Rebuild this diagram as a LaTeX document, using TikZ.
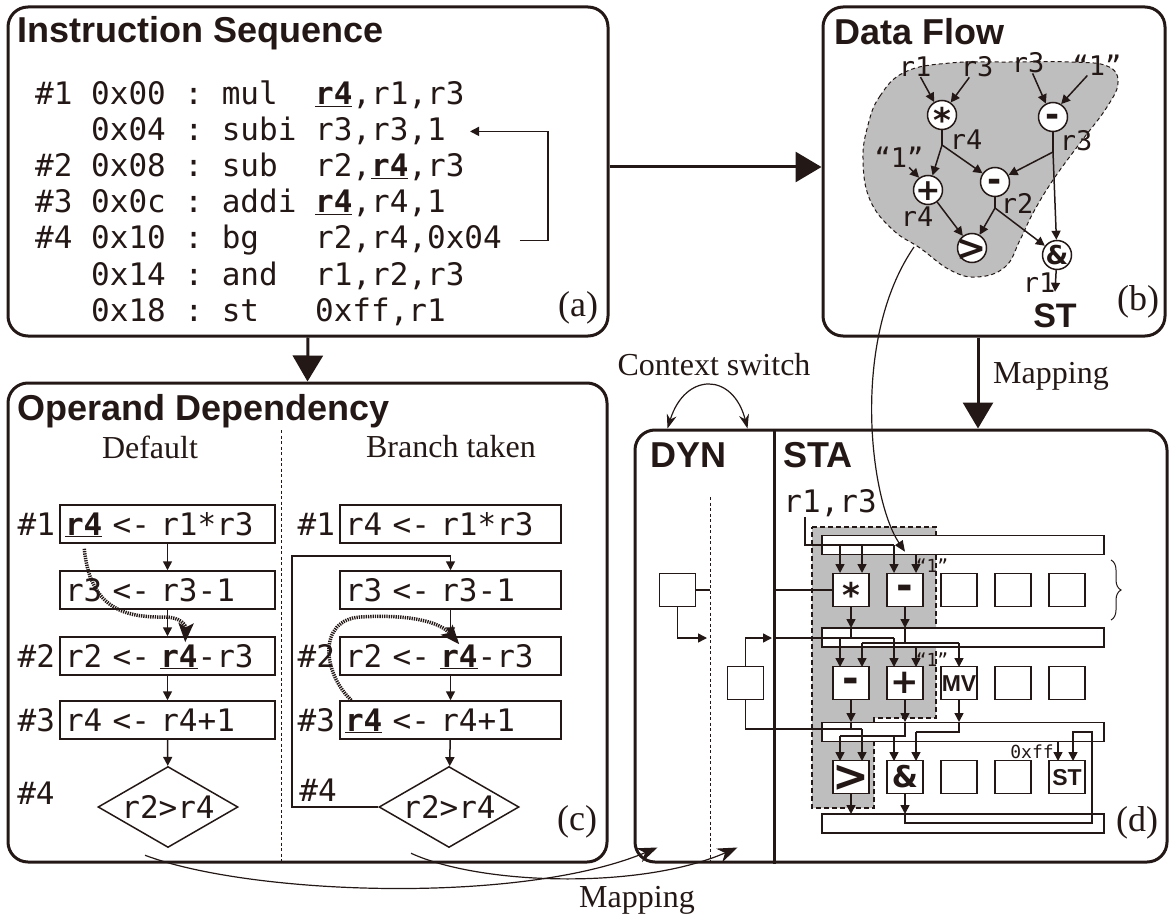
\documentclass[tikz,border=0pt]{standalone}
\usepackage{fontspec}
\setmainfont{Liberation Serif}
\setsansfont{Liberation Sans}
\setmonofont{DejaVu Sans Mono}
\newfontfamily\opfont{DejaVu Sans}
\usetikzlibrary{arrows.meta,shapes.geometric,decorations.pathreplacing}

\definecolor{ink}{RGB}{35,24,21}
\definecolor{blob}{RGB}{190,190,190}

% operator glyph with no width: raise, size, glyph
\newcommand{\opsym}[3]{\makebox[0pt]{\raisebox{#1}{\fontsize{#2}{#2}\selectfont\opfont\bfseries #3}}}
% unit name inside a cell
\newcommand{\fu}[1]{\makebox[0pt]{\raisebox{2pt}{\fontsize{23}{24}\selectfont\sffamily\bfseries #1}}}
% register carrying the dependency
\newcommand{\dep}[1]{\textbf{\underline{#1}}}

\begin{document}
\begin{tikzpicture}[x=1pt, y=-1pt, color=ink,
    panel/.style={draw, line width=3pt, rounded corners=20pt, inner sep=0},
    ttl/.style={anchor=base west, inner sep=0, font=\fontsize{36}{40}\selectfont\sffamily\bfseries},
    asm/.style={anchor=base west, inner sep=0, font=\fontsize{31}{36}\selectfont\ttfamily},
    num/.style={inner sep=0, font=\fontsize{31}{36}\selectfont\ttfamily},
    reg/.style={inner sep=0, font=\fontsize{27}{30}\selectfont\ttfamily},
    konst/.style={inner sep=0, font=\fontsize{18}{20}\selectfont\ttfamily},
    note/.style={inner sep=0, font=\fontsize{32}{36}\selectfont},
    plab/.style={inner sep=0, font=\fontsize{36}{40}\selectfont},
    stmt/.style={draw, line width=1.5pt, minimum height=38, inner xsep=5, inner ysep=0,
      text height=26pt, text depth=4pt, align=left, font=\fontsize{31}{36}\selectfont\ttfamily},
    cond/.style={draw, diamond, aspect=1.75, line width=1.5pt, minimum width=140, minimum height=81,
      inner sep=0, font=\fontsize{31}{36}\selectfont\ttfamily},
    opc/.style={draw, circle, fill=white, line width=1.5pt, minimum size=29, inner sep=0,
      text height=21pt, text depth=0pt},
    cell/.style={draw, fill=white, line width=1.5pt, minimum width=36, minimum height=33, inner sep=0,
      text height=21pt, text depth=0pt},
    bus/.style={draw, fill=white, line width=1.5pt, minimum width=282, minimum height=19, inner sep=0},
    big/.style={-{Triangle[length=26pt,width=30pt]}, line width=3pt},
    sm/.style={-{Triangle[length=9pt,width=9pt]}, line width=1.5pt},
    hop/.style={-{Stealth[length=19pt,width=15pt,inset=4pt]}, line width=3.5pt, dash pattern=on 1.3pt off 1pt},
    map/.style={-{Stealth[length=20pt,width=15pt]}, line width=1.2pt},
    divider/.style={line width=1pt, dash pattern=on 3pt off 2.5pt}]

\useasboundingbox (0,0) rectangle (1169,917);

% the four panels
\node[panel, minimum width=600, minimum height=329] (pa) at (308,171.5) {};
\node[panel, minimum width=342, minimum height=329] (pb) at (994,171.5) {};
\node[panel, minimum width=599, minimum height=479] (pc) at (307.5,622.5) {};
\node[panel, minimum width=532, minimum height=432] (pd) at (901,646) {};

\draw[big] ([yshift=4.5pt]pa.east) -- ([yshift=4.5pt]pb.west);
\draw[big] (pa.south) -- (pc.north);
\coordinate (mapx) at (978,0);
\draw[big] (pb.south -| mapx) -- (pd.north -| mapx);
\node[note, anchor=west] (mapR) at (993,376) {Mapping};

%%% (a) instruction sequence
\node[ttl] (tA) at (17,43) {Instruction Sequence};
\node[asm] (l1) at (35,105) {\#1 0x00 : mul~~\dep{r4},r1,r3};
\node[asm] (l2) at (35,141) {~~~0x04 : subi r3,r3,1};
\node[asm] (l3) at (35,177) {\#2 0x08 : sub~~r2,\dep{r4},r3};
\node[asm] (l4) at (35,213) {\#3 0x0c : addi \dep{r4},r4,1};
\node[asm] (l5) at (35,249) {\#4 0x10 : bg~~~r2,r4,0x04};
\node[asm] (l6) at (35,285) {~~~0x14 : and~~r1,r2,r3};
\node[asm] (l7) at (35,321) {~~~0x18 : st~~~0xff,r1};
\draw[sm] ([xshift=18pt]l5.east) -- ++(28,0) |- ([xshift=24pt]l2.east);
\node[plab] (tagA) at (578,308) {(a)};

%%% (b) data flow
\node[ttl] (tB) at (834,45) {Data Flow};
\draw[fill=blob, line width=1pt, dash pattern=on 4pt off 3pt] plot[smooth cycle, tension=0.7] coordinates
  {(868,125) (880,96) (905,72) (950,63) (1010,62) (1070,62) (1107,66) (1118,82) (1107,107)
   (1080,143) (1053,180) (1033,213) (1020,240) (1005,267) (977,277) (950,270) (920,248)
   (893,230) (870,200) (863,160)};
\coordinate (blobout) at (914,247);

\node[reg] (in1) at (915,67) {r1};
\node[reg] (in3) at (977,67) {r3};
\node[reg] (in3b) at (1028,63) {r3};
\node[reg] (inc) at (1097,65) {“1”};
\node[reg] (inc2) at (899,157) {“1”};

\node[opc] (mulB) at (942,115) {\opsym{-7pt}{34}{*}};
\node[opc] (subB) at (1053,117) {\opsym{1pt}{34}{-}};
\node[opc] (addB) at (928,190) {\opsym{0pt}{30}{+}};
\node[opc] (sub2B) at (995,182) {\opsym{1pt}{34}{-}};
\node[opc] (gtB) at (972,248) {\opsym{-2pt}{36}{>}};
\node[opc] (andB) at (1057,255) {\opsym{1pt}{26}{\&}};
\node[inner sep=0, font=\fontsize{34}{36}\selectfont\sffamily\bfseries] (stB) at (1055,316) {ST};

\coordinate (jMul) at (942,145);
\coordinate (jSub) at (1053,152);
\coordinate (jSub2) at (995,208);

\draw[sm] ([xshift=7pt,yshift=-15pt]in1) -- (mulB);
\draw[sm] ([xshift=-12pt,yshift=-15pt]in3) -- (mulB);
\draw[sm] ([xshift=7pt,yshift=-20pt]in3b) -- (subB);
\draw[sm] ([xshift=-22pt,yshift=-17pt]inc) -- (subB);
\draw[sm] ([xshift=8pt,yshift=-4pt]inc2) -- (addB);
\draw[line width=1.5pt] (mulB) -- (jMul);
\draw[sm] (jMul) -- (addB);
\draw[sm] (jMul) -- (sub2B);
\draw[line width=1.5pt] (subB) -- (jSub);
\draw[sm] (jSub) -- (sub2B);
\draw[sm] (jSub) -- (andB);
\draw[line width=1.5pt] (sub2B) -- (jSub2);
\draw[sm] (jSub2) -- (gtB);
\draw[sm] (jSub2) -- (andB);
\draw[sm] (addB) -- (gtB);
\draw[sm] (andB) -- ([yshift=12pt]stB.north);

\node[reg] (o1) at (966,140) {r4};
\node[reg] (o2) at (1076,141) {r3};
\node[reg] (o3) at (917,217) {r4};
\node[reg] (o4) at (1017,203) {r2};
\node[reg] (o5) at (1039,283) {r1};
\node[plab] (tagB) at (1138,302) {(b)};

%%% (c) operand dependency
\node[ttl] (tC) at (17,420) {Operand Dependency};
\draw[divider] (281,430) -- (281,862);
\node[note] (hdL) at (150,447) {Default};
\node[note] (hdR) at (451,447) {Branch taken};

\node[stmt, text width=205] (b1L) at (167.5,524) {\dep{r4} <- r1*r3};
\node[stmt, text width=205] (b2L) at (167.5,590) {r3 <- r3-1};
\node[stmt, text width=205] (b3L) at (167.5,656) {r2 <- \dep{r4}-r3};
\node[stmt, text width=205] (b4L) at (167.5,720) {r4 <- r4+1};
\node[cond] (dL) at (168,807) {r2>r4};
\node[num, anchor=east] (n1L) at ([xshift=-4pt]b1L.west) {\#1};
\node[num, anchor=east] (n2L) at ([xshift=-4pt]b3L.west) {\#2};
\node[num, anchor=east] (n3L) at ([xshift=-4pt]b4L.west) {\#3};
\node[num] (n4L) at (36,793) {\#4};
\draw[sm] (b1L) -- (b2L);
\draw[sm] (b2L) -- (b3L);
\draw[sm] (b3L) -- (b4L);
\draw[sm] (b4L) -- (dL);

\node[stmt, text width=211] (b1R) at (450.5,524) {r4 <- r1*r3};
\node[stmt, text width=211] (b2R) at (450.5,590) {r3 <- r3-1};
\node[stmt, text width=211] (b3R) at (450.5,656) {r2 <- \dep{r4}-r3};
\node[stmt, text width=211] (b4R) at (450.5,720) {\dep{r4} <- r4+1};
\node[cond] (dR) at (449,807) {r2>r4};
\node[num, anchor=east] (n1R) at ([xshift=-4pt]b1R.west) {\#1};
\node[num, anchor=east] (n2R) at ([xshift=-4pt]b3R.west) {\#2};
\node[num, anchor=east] (n3R) at ([xshift=-4pt]b4R.west) {\#3};
\node[num] (n4R) at (318,790) {\#4};
\draw[sm] (b2R) -- (b3R);
\draw[sm] (b3R) -- (b4R);
\draw[sm] (b4R) -- (dR);
\coordinate (loopR) at (292,556);
\draw[sm] (dR.west) -| (loopR) -- (loopR -| b2R.north) -- (b2R.north);

% register dependencies
\draw[hop] ([xshift=25pt,yshift=-5pt]b1L.south west) .. controls (90,605) and (120,618) .. (165,617)
  .. controls (180,617) and (186,625) .. ([xshift=126pt,yshift=-6pt]b3L.north west);
\draw[hop] ([xshift=12pt]b4R.north west) .. controls (322,672) and (318,620) .. (360,617)
  .. controls (410,614) and (440,622) .. ([xshift=120pt,yshift=-8pt]b3R.north west);
\node[plab] (tagC) at (577,822) {(c)};

\draw[map] ([xshift=-23pt,yshift=-7pt]dL.south) .. controls (250,895) and (520,905)
  .. ([xshift=24pt,yshift=16pt]pd.south west);
\draw[map] ([xshift=-38pt,yshift=-5pt]dR.south) .. controls (480,885) and (640,890)
  .. ([xshift=104pt,yshift=16pt]pd.south west);
\node[note] (mapB) at (637,900) {Mapping};

%%% (d) DYN / STA array
\node[note] (ctx) at (714,365) {Context switch};
\draw[{Stealth[length=14pt,width=10pt]}-{Stealth[length=14pt,width=10pt]}, line width=1.2pt]
  ([xshift=34pt]pd.north west) .. controls (685,372) and (733,372) .. ([xshift=114pt]pd.north west);

\coordinate (split) at (774,430);
\draw[line width=3pt] (split) -- (split |- pd.south);
\node[ttl] (tDyn) at (650,467) {DYN};
\node[ttl] (tSta) at (783,467) {STA};
\draw[divider] (710,497) -- (710,862);

\draw[fill=blob, line width=1.5pt, dash pattern=on 5pt off 3pt]
  (812,527) -- (936,527) -- (936,718) -- (874,718) -- (874,808) -- (812,808) -- cycle;

\node[bus] (bus1) at (963,545) {};
\node[bus] (bus2) at (963,637.5) {};
\node[bus] (bus3) at (963,732) {};
\node[bus] (bus4) at (963,823.5) {};

\node[cell] (c11) at (851,590) {\opsym{-7pt}{34}{*}};
\node[cell] (c12) at (905,590) {\opsym{1pt}{40}{-}};
\foreach \i in {3,4,5} \node[cell] (c1\i) at ({797+54*\i},590) {};
\node[cell] (c21) at (851,683) {\opsym{1pt}{40}{-}};
\node[cell] (c22) at (905,683) {\opsym{0pt}{34}{+}};
\node[cell] (c23) at (959,683) {\fu{MV}};
\foreach \i in {4,5} \node[cell] (c2\i) at ({797+54*\i},683) {};
\node[cell] (c31) at (851,777) {\opsym{-4pt}{44}{>}};
\node[cell] (c32) at (905,777) {\opsym{0pt}{30}{\&}};
\foreach \i in {3,4} \node[cell] (c3\i) at ({797+54*\i},777) {};
\node[cell] (c35) at (1067,777) {\fu{ST}};

\node[cell] (dyn1) at (677.5,590) {};
\node[cell] (dyn2) at (745.5,683) {};

\node[num] (inR) at (830,503) {r1,r3};
\node[konst] (k1) at (932,566) {“1”};
\node[konst] (k2) at (932,660) {“1”};
\node[konst] (kff) at (1032,752) {0xff};
\node[plab] (tagD) at (1137,823) {(d)};
\draw[line width=1pt, decorate, decoration={brace, amplitude=10pt}] (1111,560) -- (1111,620);

% row 1 inputs
\draw[line width=1.5pt] ([xshift=-25pt]inR.south) |- (894,545);
\foreach \x in {840,862,894} \draw[sm] (\x,545) -- (\x,573);
\draw[sm] (916,554) -- (916,573);
\draw[line width=1.5pt] (dyn1.east) -- (710,590);
\draw[line width=1.5pt] (774,590) -- (c11.west);

% row 2 inputs
\draw[sm] (c11.south) -- (851,628);
\draw[sm] (c12.south) -- (905,628);
\draw[line width=1.5pt] (851,628) -- (851,638);
\draw[line width=1.5pt] (905,628) -- (905,643);
\draw[sm] (dyn1.south) |- (707,638);
\draw[sm] (dyn2.north) |- (772,638);
\draw[line width=1.5pt] (774,638) -- (894,638);
\draw[line width=1.5pt] (862,643) -- (959,643);
\foreach \x/\y in {840/638,894/638,862/643,959/643} \draw[sm] (\x,\y) -- (\x,667);
\draw[sm] (916,647) -- (916,667);

% row 3 inputs
\draw[sm] (c21.south) -- (851,722);
\draw[sm] (c22.south) -- (905,722);
\draw[sm] (c23.south) -- (959,722);
\draw[line width=1.5pt] (dyn2.south) |- (862,729);
\draw[line width=1.5pt] (851,722) -- (851,729);
\draw[line width=1.5pt] (905,722) |- (840,736);
\draw[line width=1.5pt] (959,722) |- (916,732);
\foreach \x/\y in {862/729,840/736,894/736,916/732,1058/742} \draw[sm] (\x,\y) -- (\x,761);

% outputs to the last bus
\draw[sm] (c31.south) -- (851,814);
\draw[sm] (c32.south) -- (905,814);
\draw[sm] (905,814) |- (1092,823) |- (1073,732) -- (1073,761);

% mapped region
\draw[-{Triangle[length=11pt,width=9pt]}, line width=1.2pt] (blobout) .. controls (850,340) and (870,500)
  .. ([yshift=21pt]c12.north);

\end{tikzpicture}
\end{document}
